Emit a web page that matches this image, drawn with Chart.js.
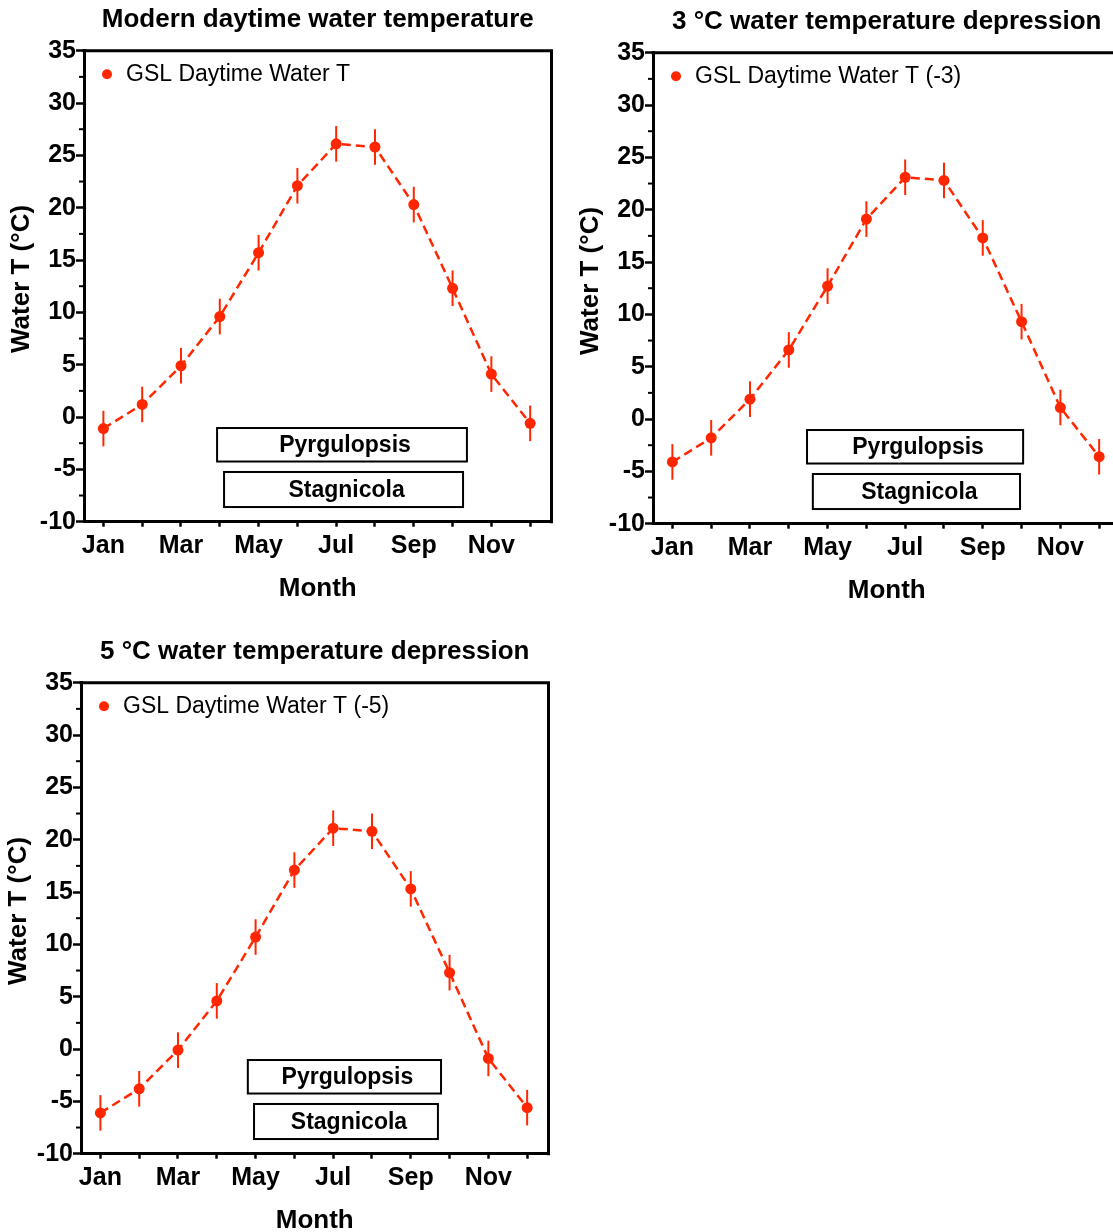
<!DOCTYPE html>
<html>
<head>
<meta charset="utf-8">
<title>GSL daytime water temperature</title>
<script src="https://cdn.jsdelivr.net/npm/chart.js@4.4.1/dist/chart.umd.min.js"></script>
<style>
  html, body { margin: 0; padding: 0; background: #fff; overflow: hidden; }
  body { width: 1113px; height: 1232px; position: relative; }
  canvas { position: absolute; }
  #c1 { left: 0px; top: 0px; }
  #c2 { left: 569px; top: 2px; }
  #c3 { left: -3px; top: 632px; }
</style>
</head>
<body>
<canvas id="c1" width="560" height="610"></canvas>
<canvas id="c2" width="560" height="610"></canvas>
<canvas id="c3" width="560" height="610"></canvas>
<script>
// months 1..12, only odd months get a label
const months = [1, 2, 3, 4, 5, 6, 7, 8, 9, 10, 11, 12];
const monthLabels = ['Jan', '', 'Mar', '', 'May', '', 'Jul', '', 'Sep', '', 'Nov', ''];
const yTicks = [-10, -5, 0, 5, 10, 15, 20, 25, 30, 35];

// mean daytime water T per month (deg C) and its error
const waterT = [-1.1, 1.2, 4.9, 9.6, 15.7, 22.1, 26.1, 25.8, 20.3, 12.3, 4.1, -0.6];
const waterTm3 = [-4.1, -1.8, 1.9, 6.6, 12.7, 19.1, 23.1, 22.8, 17.3, 9.3, 1.1, -3.6];
const waterTm5 = [-6.1, -3.8, -0.1, 4.6, 10.7, 17.1, 21.1, 20.8, 15.3, 7.3, -0.9, -5.6];
const waterErr = [1.7, 1.7, 1.7, 1.7, 1.7, 1.7, 1.7, 1.7, 1.7, 1.7, 1.7, 1.7];

// active season (month range) for each genus in each scenario
const pyrgSpan = [[3.93, 10.37], [4.47, 10.04], [4.80, 9.78]];
const stagSpan = [[4.11, 10.27], [4.62, 9.96], [4.96, 9.70]];

const titles = [
  'Modern daytime water temperature',
  '3 \u00B0C water temperature depression',
  '5 \u00B0C water temperature depression'
];
const seriesNames = ['GSL Daytime Water T', 'GSL Daytime Water T (-3)', 'GSL Daytime Water T (-5)'];
const seriesData = [waterT, waterTm3, waterTm5];

const RED = 'rgb(255, 38, 0)';
const FONT = '"Liberation Sans", Arial, Helvetica, sans-serif';
Chart.defaults.font.family = FONT;
Chart.defaults.color = '#000';

// vertical band (in deg C) where each genus box sits
const boxRows = [
  { name: 'Pyrgulopsis', top: -1.05, bottom: -4.25 },
  { name: 'Stagnicola', top: -5.25, bottom: -8.6 }
];

const framePlugin = {
  id: 'frame',
  beforeDatasetsDraw(chart) {
    const { ctx, scales: { x, y } } = chart;
    ctx.save();
    // error bars
    ctx.strokeStyle = RED;
    ctx.lineWidth = 2;
    const ds = chart.data.datasets[0];
    ds.data.forEach((p, i) => {
      const px = x.getPixelForValue(p.x);
      ctx.beginPath();
      ctx.moveTo(px, y.getPixelForValue(p.y + ds.err[i]));
      ctx.lineTo(px, y.getPixelForValue(p.y - ds.err[i]));
      ctx.stroke();
    });
    ctx.restore();
  },
  afterDraw(chart) {
    const { ctx, chartArea: a, scales: { x, y } } = chart;
    const opts = chart.options.plugins.frame;
    ctx.save();
    // top and right edges of the box
    ctx.strokeStyle = '#000';
    ctx.lineWidth = 3;
    ctx.beginPath();
    ctx.moveTo(a.left - 1.5, a.top);
    ctx.lineTo(a.right, a.top);
    ctx.lineTo(a.right, a.bottom + 1.5);
    ctx.stroke();

    // minor y ticks halfway between labelled ones
    ctx.lineWidth = 2;
    for (let v = -7.5; v < 35; v += 5) {
      const py = y.getPixelForValue(v);
      ctx.beginPath();
      ctx.moveTo(a.left, py);
      ctx.lineTo(a.left - 5, py);
      ctx.stroke();
    }

    // genus boxes
    boxRows.forEach((row, r) => {
      const span = opts.spans[r];
      const x0 = x.getPixelForValue(span[0]);
      const x1 = x.getPixelForValue(span[1]);
      const y0 = y.getPixelForValue(row.top);
      const y1 = y.getPixelForValue(row.bottom);
      ctx.fillStyle = '#fff';
      ctx.fillRect(x0, y0, x1 - x0, y1 - y0);
      ctx.strokeStyle = '#000';
      ctx.lineWidth = 2;
      ctx.strokeRect(x0, y0, x1 - x0, y1 - y0);
      ctx.fillStyle = '#000';
      ctx.font = 'bold 23px ' + FONT;
      ctx.textAlign = 'center';
      ctx.textBaseline = 'middle';
      ctx.fillText(row.name, (x0 + x1) / 2 + 3, (y0 + y1) / 2 + 1);
    });

    // legend in the upper left corner
    const ds = chart.data.datasets[0];
    ctx.fillStyle = RED;
    ctx.beginPath();
    ctx.arc(a.left + 23, a.top + 23.5, 5, 0, Math.PI * 2);
    ctx.fill();
    ctx.fillStyle = '#000';
    ctx.font = '23px ' + FONT;
    ctx.textAlign = 'left';
    ctx.textBaseline = 'middle';
    ctx.fillText(ds.label, a.left + 42, a.top + 24);
    ctx.restore();
  }
};

function makeChart(id, k) {
  const points = months.map((m, i) => ({ x: m, y: seriesData[k][i] }));
  return new Chart(document.getElementById(id), {
    type: 'line',
    data: {
      datasets: [{
        label: seriesNames[k],
        data: points,
        err: waterErr,
        borderColor: RED,
        backgroundColor: RED,
        borderWidth: 2.5,
        borderDash: [9, 5],
        pointRadius: 5.5,
        pointBorderWidth: 0,
        pointBackgroundColor: RED,
        tension: 0
      }]
    },
    options: {
      responsive: false,
      animation: false,
      layout: { padding: { left: 0, right: 8.5, top: 0, bottom: 0 } },
      plugins: {
        legend: { display: false },
        tooltip: { enabled: false },
        title: {
          display: true,
          text: titles[k],
          fullSize: false,
          color: '#000',
          font: { size: 26, weight: 'bold', lineHeight: 1.2 },
          padding: { top: 4.4, bottom: 15.1 }
        },
        frame: { spans: [pyrgSpan[k], stagSpan[k]] }
      },
      scales: {
        x: {
          type: 'linear',
          min: 0.5,
          max: 12.55,
          afterBuildTicks(scale) {
            scale.ticks = months.map(m => ({ value: m }));
          },
          afterFit(scale) { scale.height = 88.3; },
          ticks: {
            autoSkip: false,
            maxRotation: 0,
            padding: 4,
            font: { size: 25, weight: 'bold' },
            callback: (v) => monthLabels[v - 1]
          },
          grid: {
            drawOnChartArea: false,
            drawTicks: true,
            tickLength: 5,
            tickWidth: 2.5,
            tickColor: '#000'
          },
          border: { display: true, color: '#000', width: 3 },
          title: {
            display: true,
            text: 'Month',
            color: '#000',
            font: { size: 26, weight: 'bold', lineHeight: 1.2 },
            padding: { top: 0, bottom: 5.4 }
          }
        },
        y: {
          min: -10,
          max: 35,
          afterBuildTicks(scale) {
            scale.ticks = yTicks.map(v => ({ value: v }));
          },
          afterFit(scale) { scale.width = 84; },
          ticks: {
            padding: 0,
            font: { size: 25, weight: 'bold' }
          },
          grid: {
            drawOnChartArea: false,
            drawTicks: true,
            tickLength: 8,
            tickWidth: 2.5,
            tickColor: '#000'
          },
          border: { display: true, color: '#000', width: 3 },
          title: {
            display: true,
            text: '\u00A0\u00A0Water T (\u00B0C)',
            color: '#000',
            font: { size: 26, weight: 'bold', lineHeight: 1.2 },
            padding: { top: 6.4, bottom: 0 }
          }
        }
      }
    },
    plugins: [framePlugin]
  });
}

makeChart('c1', 0);
makeChart('c2', 1);
makeChart('c3', 2);
</script>
</body>
</html>
